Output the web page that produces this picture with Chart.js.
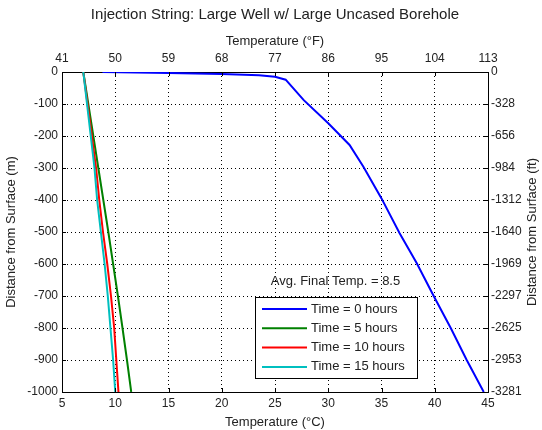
<!DOCTYPE html>
<html>
<head>
<meta charset="utf-8">
<script src="https://cdn.jsdelivr.net/npm/chart.js@4.4.0/dist/chart.umd.min.js"></script>
<style>
  html, body { margin: 0; padding: 0; background: #fff; }
  canvas { display: block; }
</style>
</head>
<body>
<canvas id="chart" width="542" height="430"></canvas>
<script>
// depth below surface (m), shared by the later profiles
const depths = [0, -100, -200, -300, -400, -500, -600, -700, -800, -900, -1000];

// Time = 0 hours has its own depth points, it bends hard near the surface
const depths0 = [0, -3, -6, -10, -15, -24, -88, -160, -228, -296, -395, -504, -597, -700, -800, -900, -1000];
const temps0  = [8.8, 15, 20, 23.5, 25, 26, 27.7, 30, 32, 33.3, 35, 36.7, 38.3, 39.9, 41.5, 43.0, 44.6];

const temps5  = [7.0, 7.47, 7.94, 8.41, 8.88, 9.35, 9.8, 10.25, 10.68, 11.1, 11.5];
const temps10 = [7.0, 7.4, 7.8, 8.2, 8.5, 8.85, 9.25, 9.6, 9.9, 10.1, 10.3];
const temps15 = [7.0, 7.35, 7.7, 8.05, 8.3, 8.65, 9.0, 9.3, 9.55, 9.8, 10.0];

const seriesNames = ["Time = 0 hours", "Time = 5 hours", "Time = 10 hours", "Time = 15 hours"];
const seriesColors = ["#0000ff", "#008000", "#ff0000", "#00bfbf"];
const avgFinalTemp = 8.5;

const FONT = "'Liberation Sans', Arial, Helvetica, sans-serif";
const INK = "#222";
Chart.defaults.font.family = FONT;
Chart.defaults.color = INK;

function series(i, temps, ds, order) {
  return {
    label: seriesNames[i],
    data: temps.map((t, k) => ({ x: t, y: ds[k] })),
    borderColor: seriesColors[i],
    backgroundColor: seriesColors[i],
    borderWidth: 2,
    pointRadius: 0,
    tension: 0,
    fill: false,
    order: order
  };
}

// MATLAB style: ticks pointing in, legend box, text label, titles
const decor = {
  id: "decor",
  afterDraw(chart) {
    const { ctx, chartArea: a, scales } = chart;
    ctx.save();

    ctx.strokeStyle = "#000";
    ctx.lineWidth = 1;
    ctx.beginPath();
    scales.x.ticks.forEach(t => {
      const px = Math.round(scales.x.getPixelForValue(t.value)) + 0.5;
      ctx.moveTo(px, a.bottom); ctx.lineTo(px, a.bottom - 4);
      ctx.moveTo(px, a.top); ctx.lineTo(px, a.top + 4);
    });
    scales.y.ticks.forEach(t => {
      const py = Math.round(scales.y.getPixelForValue(t.value)) + 0.5;
      ctx.moveTo(a.left, py); ctx.lineTo(a.left + 4, py);
      ctx.moveTo(a.right, py); ctx.lineTo(a.right - 4, py);
    });
    ctx.stroke();

    // main title
    ctx.fillStyle = INK;
    ctx.font = "15px " + FONT;
    ctx.textAlign = "center";
    ctx.textBaseline = "middle";
    ctx.fillText("Injection String: Large Well w/ Large Uncased Borehole", (a.left + a.right) / 2, 15);

    // right axis title, reads bottom to top
    ctx.font = "13px " + FONT;
    ctx.save();
    ctx.translate(532, (a.top + a.bottom) / 2);
    ctx.rotate(-Math.PI / 2);
    ctx.fillText("Distance from Surface (ft)", 0, 0);
    ctx.restore();

    // average temp note
    ctx.textAlign = "left";
    ctx.fillText("Avg. Final Temp. = " + avgFinalTemp, scales.x.getPixelForValue(24.6), scales.y.getPixelForValue(-656));

    // legend
    const bw = 162, bh = 81;
    const bx = a.right - 71 - bw, by = a.bottom - 14 - bh;
    ctx.fillStyle = "#fff";
    ctx.fillRect(bx, by, bw, bh);
    ctx.strokeStyle = "#000";
    ctx.strokeRect(Math.round(bx) + 0.5, Math.round(by) + 0.5, bw, bh);
    seriesNames.forEach((name, i) => {
      const yy = by + 12 + i * 19.3;
      ctx.strokeStyle = seriesColors[i];
      ctx.lineWidth = 2;
      ctx.beginPath();
      ctx.moveTo(bx + 7, yy); ctx.lineTo(bx + 52, yy);
      ctx.stroke();
      ctx.fillStyle = INK;
      ctx.fillText(name, bx + 56, yy);
    });

    ctx.restore();
  }
};

const dotted = { display: true, color: "#000", width: 1, dash: [1, 3] };
const tickFont = { size: 12 };
const titleFont = { size: 13 };

new Chart(document.getElementById("chart"), {
  type: "line",
  data: {
    datasets: [
      series(0, temps0, depths0, 3),
      series(1, temps5, depths, 2),
      series(2, temps10, depths, 1),
      series(3, temps15, depths, 0)
    ]
  },
  options: {
    responsive: false,
    devicePixelRatio: 1,
    animation: false,
    layout: { padding: { top: 30, left: 0, right: 0, bottom: 0 } },
    plugins: { legend: { display: false }, tooltip: { enabled: false } },
    scales: {
      x: {
        type: "linear", position: "bottom", min: 5, max: 45,
        ticks: { stepSize: 5, font: tickFont, padding: 4, maxRotation: 0, autoSkip: false },
        grid: { color: "#000", lineWidth: 1, drawTicks: false },
        border: dotted,
        title: { display: true, text: "Temperature (°C)", font: titleFont, padding: { top: 0, bottom: 0 } },
        afterFit(s) { s.height = 38; }
      },
      x2: {
        type: "linear", position: "top", min: 5, max: 45,
        ticks: { stepSize: 5, font: tickFont, padding: 6, maxRotation: 0, autoSkip: false,
                 callback: v => String(Math.round(v * 9 / 5 + 32)) },
        grid: { drawOnChartArea: false, drawTicks: false },
        border: { display: true, color: "#000", width: 1 },
        title: { display: true, text: "Temperature (°F)", font: titleFont, padding: { top: 4, bottom: 0 } },
        afterFit(s) { s.height = 42; }
      },
      y: {
        type: "linear", position: "left", min: -1000, max: 0,
        ticks: { stepSize: 100, font: tickFont, padding: 4, autoSkip: false,
                 callback: v => String(v) },
        grid: { color: "#000", lineWidth: 1, drawTicks: false },
        border: dotted,
        title: { display: true, text: "Distance from Surface (m)", font: titleFont, padding: { top: 4, bottom: 0 } },
        afterFit(s) { s.width = 62; }
      },
      y2: {
        type: "linear", position: "right", min: -1000, max: 0,
        ticks: { stepSize: 100, font: tickFont, padding: 3, autoSkip: false,
                 callback: v => String(Math.round(v * 3.28084)) },
        grid: { drawOnChartArea: false, drawTicks: false },
        border: { display: true, color: "#000", width: 1 },
        afterFit(s) { s.width = 54; }
      }
    }
  },
  plugins: [decor]
});
</script>
</body>
</html>
